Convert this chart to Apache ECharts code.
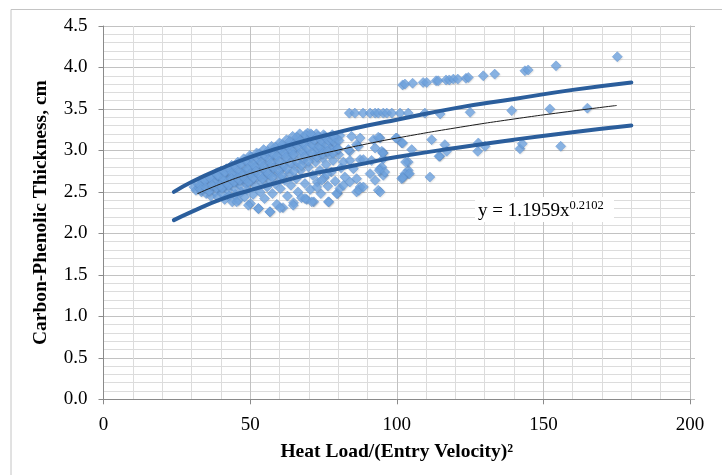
<!DOCTYPE html>
<html>
<head>
<meta charset="utf-8">
<script src="https://cdn.jsdelivr.net/npm/echarts@6/dist/echarts.min.js"></script>
<style>
  html, body { margin: 0; padding: 0; background: #fff; }
  #chart { width: 722px; height: 475px; }
</style>
</head>
<body>
<div id="chart"></div>
<script>
// Measured carbon-phenolic thickness (cm) against heat load / (entry velocity)^2
const denseCloud = [
  [30.8,2.56],[31.5,2.52],[32.2,2.60],[32.6,2.55],[33.4,2.50],[33.8,2.62],[34.2,2.57],
  [35.0,2.48],[35.3,2.66],[35.7,2.53],[36.1,2.60],[36.6,2.45],[36.9,2.69],[37.3,2.56],[37.6,2.64],
  [38.0,2.50],[38.3,2.72],[38.7,2.59],[39.0,2.44],[39.3,2.67],[39.6,2.54],[40.0,2.75],[40.2,2.62],[40.5,2.48],
  [41.0,2.70],[41.3,2.41],[41.6,2.57],[41.9,2.78],[42.2,2.65],[42.5,2.52],[42.8,2.45],[43.1,2.73],[43.4,2.60],[43.7,2.82],[43.9,2.38],
  [44.3,2.68],[44.6,2.55],[44.9,2.47],[45.2,2.77],[45.5,2.62],[45.8,2.86],[46.0,2.40],[46.3,2.71],[46.6,2.58],[46.9,2.50],
  [47.2,2.81],[47.5,2.66],[47.8,2.90],[48.1,2.44],[48.4,2.75],[48.7,2.60],[49.0,2.53],[49.3,2.85],[49.6,2.70],[49.9,2.94],[50.1,2.36],
  [50.4,2.63],[50.7,2.79],[51.0,2.47],[51.3,2.89],[51.6,2.74],[51.9,2.57],[52.2,2.97],[52.5,2.68],[52.8,2.30],[53.1,2.83],[53.4,2.50],
  [53.7,2.93],[54.0,2.62],[54.3,2.77],[54.6,3.01],[54.9,2.42],[55.2,2.70],[55.5,2.87],[55.8,2.56],[56.1,2.97],[56.4,2.66],[56.7,2.26],[57.0,2.81],[57.3,3.05],
  [57.6,2.48],[57.9,2.74],[58.2,2.91],[58.5,2.60],[58.8,3.00],[59.1,2.35],[59.4,2.84],[59.7,2.69],[60.0,3.09],[60.3,2.54],[60.6,2.95],[60.9,2.78],
  [61.2,2.31],[61.5,3.04],[61.8,2.64],[62.1,2.88],[62.4,3.13],[62.7,2.45],[63.0,2.98],[63.3,2.72],[63.6,3.07],[63.9,2.58],[64.2,2.92],[64.5,3.17],
  [64.8,2.37],[65.1,2.82],[65.4,3.02],[65.7,2.66],[66.0,3.12],[66.3,2.50],[66.6,2.96],[66.9,3.20],[67.2,2.76],[67.5,2.43],[67.8,3.07],[68.1,2.88],
  [68.4,3.16],[68.7,2.60],[69.0,2.99],[69.3,2.41],[69.6,3.21],[69.9,2.80],[70.2,3.10],[70.5,2.53],[70.8,2.93],[71.1,3.18],[71.4,2.70],[71.7,2.38],
  [72.0,3.04],[72.3,2.86],[72.6,3.20],[72.9,2.62],[73.2,2.97],[73.5,3.13],[73.8,2.76],[74.1,2.48],[74.4,3.08],[74.7,2.91],[75.0,3.19],[75.3,2.67],
  [75.6,3.01],[75.9,2.83],[76.2,3.15],[76.5,2.57],[76.8,2.38],[77.1,2.95],[77.4,3.10],[77.7,2.74],[78.0,3.19],[78.3,2.88],[78.6,3.04],[79.0,2.63],
  [79.4,3.14],[79.8,2.48],[80.2,2.95],[80.6,3.18],[81.0,2.79]
];

// Upper band of the cloud, between the fit and the upper bound
const upperBand = [
  [32.9,2.58],[34.6,2.64],[36.3,2.67],[37.9,2.61],[39.0,2.70],[40.8,2.66],[41.4,2.74],[42.9,2.78],[44.0,2.73],[44.8,2.81],
  [46.1,2.76],[46.8,2.84],[47.9,2.72],[48.6,2.88],[49.2,2.78],[50.3,2.92],[50.9,2.84],[51.8,2.80],[52.4,2.91],[53.0,2.96],
  [53.8,2.86],[54.5,2.81],[55.0,2.94],[55.9,2.99],[56.5,2.90],[57.2,2.85],[57.8,2.96],[58.6,3.04],[59.2,2.93],[59.9,2.87],
  [60.4,3.02],[61.0,3.07],[61.7,2.97],[62.3,2.92],[62.9,3.05],[63.5,3.11],[64.1,3.00],[64.7,2.95],[65.3,3.09],[65.9,3.16],
  [66.5,3.05],[67.1,3.12],[67.7,2.99],[68.3,3.08],[68.9,3.19],[69.5,3.03],[70.1,3.14],[70.7,3.20],[71.3,3.07],[71.9,3.13],
  [72.5,3.01],[73.1,3.17],[73.7,3.05],[74.3,3.12],[74.9,3.00],[75.5,3.17],[76.1,3.07],[76.7,3.12],[77.3,3.02],[77.9,3.13],
  [78.5,3.17],[79.1,3.09],[79.7,3.02],[80.3,3.12]
];

// Points just under the fit line
const midBand = [
  [33.2,2.53],[34.9,2.55],[36.0,2.51],[37.0,2.58],[38.5,2.55],[39.8,2.58],[40.4,2.55],[41.8,2.61],[42.6,2.58],[43.6,2.66],
  [44.5,2.62],[45.6,2.67],[46.4,2.64],[47.3,2.70],[48.3,2.66],[49.4,2.62],[50.0,2.72],[51.1,2.67],[52.0,2.75],[53.3,2.70],
  [54.2,2.66],[55.4,2.76],[56.2,2.72],[57.5,2.68],[58.0,2.79],[59.6,2.76],[60.8,2.70],[61.6,2.82],[62.6,2.78],[63.8,2.85],
  [64.9,2.75],[66.1,2.86],[67.4,2.82],[68.6,2.93],[69.8,2.87],[71.0,2.97],[72.8,2.92],[74.6,2.96],[76.4,2.99],[78.2,2.97],[80.0,3.02]
];

// Isolated points around and beyond the cloud
const sparsePoints = [
  [45.4,2.38],[49.4,2.34],[52.8,2.30],[56.8,2.26],[60.2,2.31],[64.7,2.34],[68.7,2.42],[71.0,2.38],[76.7,2.38],[79.5,2.48],
  [86.3,2.50],[93.7,2.52],[87.5,2.56],[90.9,2.72],[92.6,2.64],[95.4,2.70],[102.2,2.68],[103.9,2.72],[103.9,2.76],[111.3,2.68],
  [103.9,2.86],[105.1,3.01],[111.9,3.13],[114.7,2.93],[116.4,3.07],[101.7,3.09],[94.3,3.15],[92.0,3.13],[84.6,3.17],[86.3,3.07],
  [84.0,2.99],[87.5,2.89],[85.2,2.78],[94.3,2.78],[95.4,2.97],[81.8,2.86],[82.3,2.68],[76.1,2.72],[72.7,2.56],[74.4,2.64],
  [83.5,3.01],[86.9,3.05],[92.6,3.03],[94.9,2.99],[95.4,2.90],[100.0,3.15],[87.5,3.15],[91.4,2.88],[84.0,2.88],[94.9,2.80],
  [94.0,2.76],[103.0,2.86],[80.6,2.54],[81.8,2.58],[84.0,2.62],[86.3,2.66],[87.0,2.52],[88.6,2.56],[95.9,2.74],[94.3,2.50],
  [101.7,2.66],[102.8,2.72],[99.7,3.15],[102.0,3.09],[117.0,2.99],[114.4,2.93],[104.3,2.72],[102.0,2.67],[93.7,3.16],[95.2,2.97],
  [88.6,2.89],[127.8,3.09],[127.6,2.99],[130.1,3.05],[142.0,3.02],[142.8,3.08],[155.9,3.05]
];

// Horizontal run near 3.45 cm
const rowMid = [
  [83.8,3.45],[85.7,3.45],[88.5,3.45],[90.9,3.45],[92.6,3.45],[93.7,3.45],[95.4,3.45],[96.6,3.45],[98.3,3.45],
  [101.1,3.45],[103.9,3.45],[109.6,3.45],[114.8,3.44],[125.0,3.46],[139.2,3.48],[152.2,3.50],[165.0,3.51]
];

// Upper run from 3.8 to 4.1 cm
const rowHigh = [
  [102.0,3.79],[102.8,3.80],[105.4,3.81],[109.0,3.82],[110.2,3.82],[113.4,3.84],[114.1,3.84],[116.8,3.85],[117.9,3.85],
  [119.3,3.86],[120.8,3.86],[123.6,3.87],[124.4,3.88],[129.5,3.90],[133.4,3.92],[143.7,3.96],[144.8,3.97],[154.3,4.02],[175.2,4.13]
];

// Bound curves and power-law fit y = 1.1959 x^0.2102
const boundX = [24, 30, 40, 50, 60, 70, 80, 90, 100, 120, 140, 160, 180];
const upperY = [2.50, 2.62, 2.78, 2.92, 3.03, 3.13, 3.22, 3.30, 3.37, 3.51, 3.62, 3.73, 3.82];
const lowerY = [2.16, 2.26, 2.41, 2.52, 2.62, 2.71, 2.78, 2.85, 2.92, 3.03, 3.13, 3.22, 3.30];
const fitX = [32, 40, 50, 60, 70, 80, 90, 100, 120, 140, 160, 175];
const fitY = [2.478, 2.597, 2.722, 2.828, 2.921, 3.004, 3.080, 3.149, 3.271, 3.379, 3.475, 3.542];

const zip = (xs, ys) => xs.map((x, i) => [x, ys[i]]);
const measured = denseCloud.concat(upperBand, midBand, sparsePoints, rowMid, rowHigh);

const serif = 'Liberation Serif, Times New Roman, serif';
const axisGray = '#8a8a8a';

const chart = echarts.init(document.getElementById('chart'), null, { renderer: 'canvas' });
chart.setOption({
  animation: false,
  backgroundColor: '#ffffff',
  grid: { left: 103.5, right: 32, top: 26, bottom: 75.7, containLabel: false },
  xAxis: {
    type: 'value', min: 0, max: 200, interval: 50,
    name: 'Heat Load/(Entry Velocity)\u00B2',
    nameLocation: 'middle', nameGap: 43,
    nameTextStyle: { fontFamily: serif, fontWeight: 'bold', fontSize: 19.5, color: '#000' },
    axisLine: { show: true, lineStyle: { color: axisGray, width: 1 } },
    axisTick: { show: true, length: 5, inside: false, lineStyle: { color: axisGray } },
    axisLabel: { fontFamily: serif, fontSize: 19, color: '#000', margin: 16 },
    splitLine: { show: true, lineStyle: { color: '#c2c2c2', width: 1 } },
    minorTick: { show: false, splitNumber: 5 },
    minorSplitLine: { show: true, lineStyle: { color: '#dcdcdc', width: 1 } }
  },
  yAxis: [{
    type: 'value', min: 0, max: 4.5, interval: 0.5,
    name: 'Carbon-Phenolic Thickness, cm',
    nameLocation: 'middle', nameGap: 53, nameRotate: 90,
    nameTextStyle: { fontFamily: serif, fontWeight: 'bold', fontSize: 19.5, color: '#000' },
    axisLine: { show: true, lineStyle: { color: axisGray, width: 1 } },
    axisTick: { show: true, length: 5, inside: false, lineStyle: { color: axisGray } },
    axisLabel: { fontFamily: serif, fontSize: 19, color: '#000', margin: 16,
                 formatter: v => v.toFixed(1) },
    splitLine: { show: true, lineStyle: { color: '#c2c2c2', width: 1 } },
    minorTick: { show: false, splitNumber: 5 },
    minorSplitLine: { show: true, lineStyle: { color: '#dcdcdc', width: 1 } }
  }, {
    type: 'value', min: 0, max: 4.5, interval: 0.5, position: 'right',
    axisLine: { show: true, onZero: false, lineStyle: { color: '#bdbdbd', width: 1 } },
    axisTick: { show: true, length: 5, inside: false, lineStyle: { color: '#bdbdbd' } },
    axisLabel: { show: false },
    splitLine: { show: false }
  }],
  series: [{
    type: 'scatter',
    data: measured,
    symbol: 'diamond',
    symbolSize: 10,
    itemStyle: {
      color: '#72a6e2',
      borderColor: '#5e94d4',
      borderWidth: 0.6,
      shadowColor: 'rgba(0,0,0,0.14)',
      shadowBlur: 1.5,
      shadowOffsetX: 0.8,
      shadowOffsetY: 0.8
    },
    z: 2
  }, {
    type: 'line',
    data: zip(fitX, fitY),
    smooth: true,
    showSymbol: false,
    lineStyle: { color: '#1a1a1a', width: 1 },
    z: 3
  }, {
    type: 'line',
    data: zip(boundX, upperY),
    smooth: true,
    showSymbol: false,
    lineStyle: { color: '#2b5e9c', width: 4, cap: 'round' },
    z: 4
  }, {
    type: 'line',
    data: zip(boundX, lowerY),
    smooth: true,
    showSymbol: false,
    lineStyle: { color: '#2b5e9c', width: 4, cap: 'round' },
    z: 4
  }],
  graphic: [{
    type: 'rect',
    shape: { x: 11, y: 9.5, width: 900, height: 700 },
    style: { fill: 'none', stroke: '#c4c4c4', lineWidth: 1 },
    z: -10, silent: true
  }, {
    type: 'rect',
    shape: { x: 475, y: 197, width: 139, height: 25 },
    style: { fill: '#ffffff' },
    z: 10, silent: true
  }, {
    type: 'text',
    x: 478, y: 199,
    style: {
      text: '{m|y = 1.1959x}{s|0.2102}',
      rich: {
        m: { fontFamily: serif, fontSize: 19, fill: '#000', verticalAlign: 'bottom', lineHeight: 22 },
        s: { fontFamily: serif, fontSize: 12.5, fill: '#000', verticalAlign: 'top', lineHeight: 22 }
      }
    },
    z: 11, silent: true
  }]
});
</script>
</body>
</html>
